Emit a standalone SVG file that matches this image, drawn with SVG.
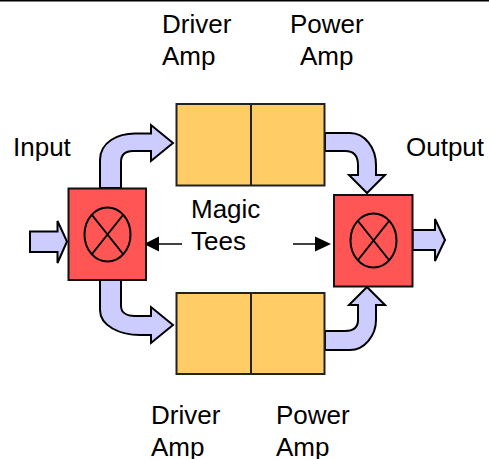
<svg xmlns="http://www.w3.org/2000/svg" width="489" height="459" viewBox="0 0 489 459">
<style>
text{font-family:"Liberation Sans",Arial,sans-serif;font-size:26px;fill:#000}
.flow{fill:#ccf;stroke:#000;stroke-width:2;stroke-linejoin:miter}
.amp{fill:#fc6;stroke:#222;stroke-width:2}
.tee{fill:#f55;stroke:#111;stroke-width:2}
.sym{fill:none;stroke:#000;stroke-width:2}
.lead{stroke:#000;stroke-width:1.500;fill:none}
</style>
<rect width="489" height="459" fill="#fff"/>
<rect x="0" y="0" width="489" height="1.500" fill="#000"/>
<g id="connectors">
<path class="flow" d="M30 231.500H57.500V221L67 241.500L57.500 263V252H30Z"/>
<path class="flow" d="M100 188V160C100 142 118 133.500 135 133.500H151V125L173 143L151 161V151H133C125 151 121 155 121 162V188Z"/>
<path class="flow" d="M100 280V310C100 326 120 335 140 335H151V343L173 325L151 307V316H135C126 316 121 312 121 306V280Z"/>
<path class="flow" d="M325 133H350C365 133 376 148 376 165V175H385L367 193L349 175H358V165C358 156 354 151 345 151H325Z"/>
<path class="flow" d="M325 350H350C365 350 376 335 376 320V305H385L367 287L349 305H358V320C358 327 354 331 345 331H325Z"/>
<path class="flow" d="M412.500 230H435V219L445 240L435 261V250H412.500Z"/>
<path class="lead" d="M182 244H158"/>
<path d="M144 244L159 236.500V251.500Z" fill="#000"/>
<path class="lead" d="M293 244H317"/>
<path d="M331 244L315 236.500V251.500Z" fill="#000"/>
</g>
<g id="amp-top"><rect class="amp" x="176.500" y="104" width="148" height="81.500"/><path class="amp" d="M251 104V185.500"/></g>
<g id="amp-bottom"><rect class="amp" x="176.500" y="293" width="148" height="81"/><path class="amp" d="M251 293V374"/></g>
<g id="tee-left"><rect class="tee" x="68.500" y="188.500" width="77.500" height="91.500"/><ellipse class="sym" cx="107.500" cy="234.500" rx="23" ry="27"/><path class="sym" d="M92 215L123 254M123 215L92 254"/></g>
<g id="tee-right"><rect class="tee" x="334" y="195" width="78.500" height="91.500"/><ellipse class="sym" cx="373.500" cy="240.500" rx="23" ry="27"/><path class="sym" d="M358 221L389 260M389 221L358 260"/></g>
<g id="labels">
<text x="162" y="33">Driver</text><text x="162" y="65">Amp</text>
<text x="290" y="33">Power</text><text x="300" y="65">Amp</text>
<text x="13" y="156">Input</text><text x="406" y="156">Output</text>
<text x="191" y="218">Magic</text><text x="191" y="250">Tees</text>
<text x="151" y="424">Driver</text><text x="151" y="456">Amp</text>
<text x="276" y="424">Power</text><text x="276" y="456">Amp</text>
</g>
</svg>
